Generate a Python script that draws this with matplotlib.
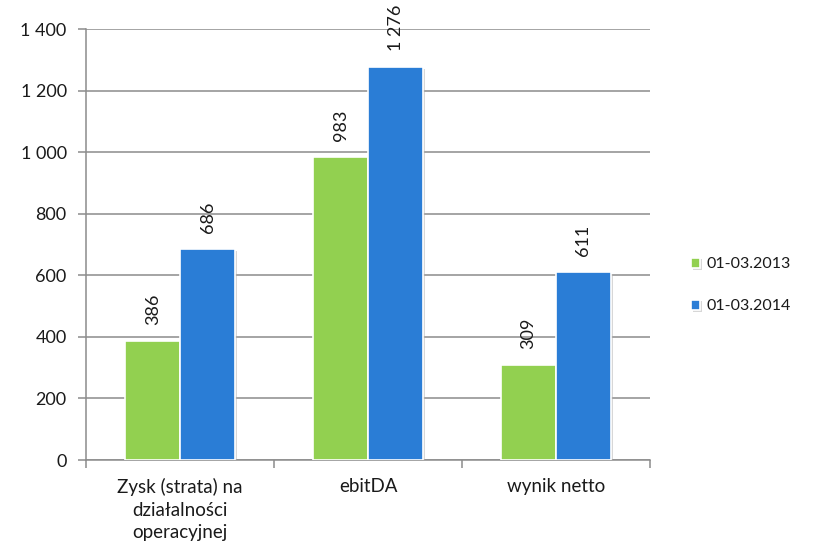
import matplotlib
matplotlib.use("Agg")
import matplotlib.pyplot as plt
import matplotlib.patheffects as pe
import numpy as np

plt.rcParams.update({
    "font.family": ["Lato", "DejaVu Sans"],
    "font.size": 12,
})

categories = ["Zysk (strata) na\ndziałalności\noperacyjnej", "ebitDA", "wynik netto"]
series_names = ["01-03.2013", "01-03.2014"]
values_2013 = [386, 983, 309]
values_2014 = [686, 1276, 611]
colors = ["#92D050", "#2A7DD6"]
AXIS = "#8c8c8c"
TEXT = "#1a1a1a"

def fmt(v):
    return f"{v:,}".replace(",", " ")

fig = plt.figure(figsize=(8.13, 5.5), dpi=100)
ax = fig.add_axes([0.106, 0.1636, 0.6935, 0.7836])

x = np.arange(len(categories))
width = 0.292
shadow = [pe.SimplePatchShadow(offset=(1.2, -1.2), shadow_rgbFace="#b0b0b0", alpha=0.5), pe.Normal()]

for i, (vals, col, name) in enumerate(zip([values_2013, values_2014], colors, series_names)):
    pos = x + (i - 0.5) * width
    bars = ax.bar(pos, vals, width, color=col, edgecolor="white", linewidth=1.2,
                  label=name, zorder=3)
    for b in bars:
        b.set_path_effects(shadow)
    for p, v in zip(pos, vals):
        ax.annotate(fmt(v), (p, v), xytext=(0, 11.5), textcoords="offset points",
                    rotation=90, ha="center", va="bottom", fontsize=13, color=TEXT)

ax.set_xlim(-0.5, len(categories) - 0.5)
ax.set_ylim(0, 1400)
ax.set_yticks(range(0, 1401, 200))
ax.set_yticklabels([fmt(t) for t in range(0, 1401, 200)], fontsize=13, color=TEXT)
ax.yaxis.grid(True, color=AXIS, linewidth=1.1, zorder=0)
ax.set_axisbelow(True)

ax.set_xticks(x)
ax.set_xticklabels(categories, fontsize=13.5, color=TEXT, linespacing=1.4)
ax.tick_params(axis="x", length=0, pad=13)
ax.set_xticks(np.arange(-0.5, len(categories), 1), minor=True)
ax.tick_params(axis="x", which="minor", length=6, color=AXIS, width=1.1)
ax.tick_params(axis="y", length=6, color=AXIS, width=1.1, pad=8)

for s in ("top", "right"):
    ax.spines[s].set_visible(False)
for s in ("left", "bottom"):
    ax.spines[s].set_color(AXIS)
    ax.spines[s].set_linewidth(1.1)

leg = ax.legend(loc="center left", bbox_to_anchor=(1.047, 0.405), frameon=False,
                handlelength=0.6, handleheight=0.6, handletextpad=0.35,
                labelspacing=1.75, fontsize=11.5)
for t in leg.get_texts():
    t.set_color(TEXT)

fig.savefig("out.png", facecolor="white")
